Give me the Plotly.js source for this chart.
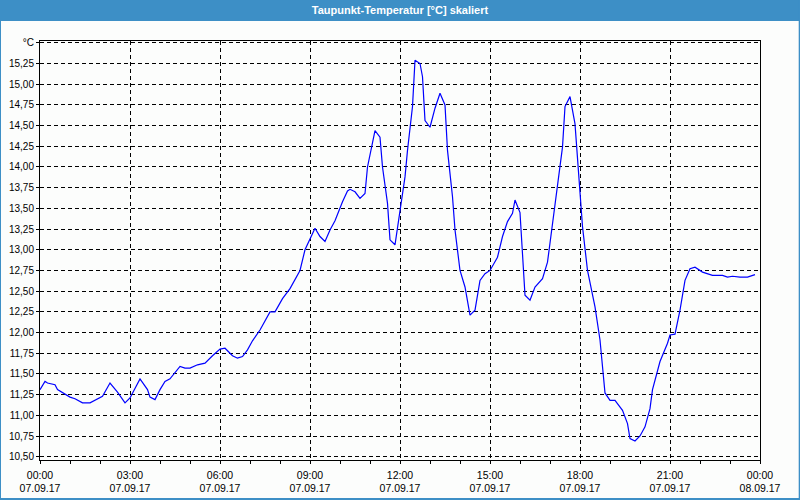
<!DOCTYPE html>
<html>
<head>
<meta charset="utf-8">
<script src="https://cdn.plot.ly/plotly-3.0.1.min.js"></script>
<style>
html,body{margin:0;padding:0;background:#fcfdfc;}
#chart{width:800px;height:500px;}
</style>
</head>
<body>
<div id="chart"></div>
<script>
// Times (07.09.17, HH:MM) and dew point values in °C
const times = ["00:00","00:10","00:15","00:30","00:35","00:45","01:00","01:10","01:25","01:40","01:50","02:05","02:20","02:35","02:50","03:00","03:20","03:35","03:40","03:50","04:00","04:10","04:20","04:30","04:40","04:50","05:00","05:15","05:30","05:45","06:00","06:10","06:25","06:35","06:45","06:55","07:05","07:20","07:40","07:50","08:05","08:20","08:40","08:50","09:00","09:10","09:20","09:30","09:40","09:50","10:05","10:15","10:20","10:30","10:40","10:50","10:55","11:05","11:10","11:20","11:25","11:35","11:40","11:50","12:00","12:10","12:15","12:25","12:30","12:40","12:45","12:50","13:00","13:10","13:20","13:30","13:35","13:45","13:50","14:00","14:10","14:20","14:30","14:40","14:50","15:00","15:15","15:25","15:35","15:45","15:50","16:00","16:10","16:20","16:30","16:45","16:55","17:05","17:15","17:25","17:30","17:40","17:50","18:00","18:05","18:15","18:30","18:40","18:50","19:00","19:10","19:25","19:35","19:40","19:50","20:00","20:10","20:20","20:25","20:40","20:55","21:00","21:10","21:20","21:30","21:40","21:50","22:05","22:25","22:45","22:55","23:05","23:20","23:35","23:50"];
const values = [11.31,11.41,11.39,11.37,11.31,11.27,11.22,11.20,11.15,11.15,11.18,11.23,11.39,11.28,11.15,11.21,11.44,11.31,11.22,11.19,11.31,11.41,11.44,11.51,11.59,11.57,11.57,11.61,11.63,11.72,11.80,11.81,11.72,11.69,11.71,11.79,11.90,12.03,12.25,12.25,12.41,12.53,12.75,13.00,13.14,13.26,13.16,13.10,13.24,13.35,13.58,13.71,13.73,13.70,13.62,13.68,14.00,14.28,14.44,14.36,14.00,13.56,13.12,13.06,13.48,13.88,14.20,14.73,15.29,15.25,15.09,14.56,14.48,14.71,14.89,14.75,14.20,13.64,13.24,12.75,12.55,12.21,12.27,12.63,12.71,12.75,12.91,13.16,13.34,13.44,13.60,13.45,12.45,12.39,12.55,12.65,12.85,13.32,13.84,14.24,14.73,14.85,14.52,13.76,13.28,12.75,12.31,11.91,11.27,11.18,11.18,11.06,10.90,10.72,10.69,10.75,10.86,11.08,11.31,11.65,11.87,11.97,11.98,12.27,12.63,12.77,12.79,12.73,12.69,12.69,12.67,12.68,12.67,12.67,12.70];
const dateStr = "2017-09-07";
const yTickVals = [10.5,10.75,11,11.25,11.5,11.75,12,12.25,12.5,12.75,13,13.25,13.5,13.75,14,14.25,14.5,14.75,15,15.25,15.5];
const yTickText = ["10,50","10,75","11,00","11,25","11,50","11,75","12,00","12,25","12,50","12,75","13,00","13,25","13,50","13,75","14,00","14,25","14,50","14,75","15,00","15,25","°C"];
const titleText = "Taupunkt-Temperatur [°C] skaliert";

const xs = times.map(t => dateStr + " " + t);
const FONT = "Liberation Sans, Arial, sans-serif";
const BLUE = "#3d8fc6";

const trace = {
  x: xs, y: values, type: "scatter", mode: "lines",
  line: {color: "#0000ff", width: 1.2}, hoverinfo: "skip"
};

// plot area: x 40..760, y 41..460
const L = 40, R = 40, T = 41, B = 40, W = 800, H = 500;
const pw = W - L - R, ph = H - T - B;
const px = x => (x - L) / pw;
const py = y => (H - B - y) / ph;

const layout = {
  width: W, height: H,
  margin: {l: L, r: R, t: T, b: B, pad: 0},
  paper_bgcolor: "#fcfdfc", plot_bgcolor: "#fcfdfc",
  showlegend: false,
  font: {family: FONT, size: 10, color: "#000"},
  title: {text: "<b>" + titleText + "</b>", font: {family: FONT, size: 11, color: "#ffffff"},
          x: 0.5, xanchor: "center", xref: "paper", y: 1 - 10/H, yanchor: "middle", yref: "container"},
  xaxis: {
    type: "date",
    range: ["2017-09-07 00:00", "2017-09-08 00:00"],
    tickmode: "linear", tick0: "2017-09-07 00:00", dtick: 3*3600000,
    tickformat: "%H:%M<br>%d.%m.%y",
    ticks: "outside", ticklen: 3, tickcolor: "#000", tickwidth: 1,
    ticklabelstandoff: 2,
    showgrid: true, gridcolor: "#000", gridwidth: 1, griddash: "4px,3px",
    minor: {dtick: 3600000, ticks: "outside", ticklen: 3, tickcolor: "#000", showgrid: false},
    showline: true, linecolor: "#000", linewidth: 1, mirror: true,
    zeroline: false, fixedrange: true,
    tickfont: {family: FONT, size: 10.5, color: "#000"}
  },
  yaxis: {
    range: [10.46, 15.522],
    tickmode: "array", tickvals: yTickVals, ticktext: yTickText,
    ticks: "outside", ticklen: 3, tickcolor: "#000",
    showgrid: true, gridcolor: "#000", gridwidth: 1, griddash: "4px,3px",
    showline: true, linecolor: "#000", linewidth: 1, mirror: true,
    zeroline: false, fixedrange: true,
    tickfont: {family: FONT, size: 10, color: "#000"}
  },
  shapes: [
    {type: "rect", xref: "paper", yref: "paper", x0: px(0), x1: px(800), y0: py(0), y1: py(21),
     fillcolor: BLUE, line: {width: 0}, layer: "below"},
    {type: "rect", xref: "paper", yref: "paper", x0: px(0), x1: px(1), y0: py(0), y1: py(500),
     fillcolor: BLUE, line: {width: 0}},
    {type: "rect", xref: "paper", yref: "paper", x0: px(798.7), x1: px(800), y0: py(0), y1: py(500),
     fillcolor: BLUE, line: {width: 0}},
    {type: "rect", xref: "paper", yref: "paper", x0: px(0), x1: px(800), y0: py(498), y1: py(500),
     fillcolor: BLUE, line: {width: 0}}
  ]
};

Plotly.newPlot("chart", [trace], layout, {displayModeBar: false, staticPlot: true});
</script>
</body>
</html>
